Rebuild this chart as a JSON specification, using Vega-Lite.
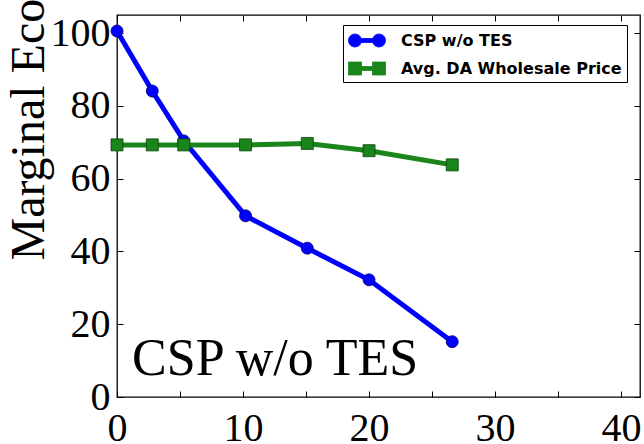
{
  "$schema": "https://vega.github.io/schema/vega-lite/v6.json",
  "width": 523,
  "height": 382,
  "autosize": {"type": "none"},
  "padding": {"left": 117, "top": 15, "right": 4, "bottom": 47},
  "background": "white",
  "config": {"view": {"stroke": "black", "strokeWidth": 1.3}},
  "data": {
    "values": [
      {"s": "CSP w/o TES", "x": 0, "y": 100.6},
      {"s": "CSP w/o TES", "x": 2.8, "y": 84.1},
      {"s": "CSP w/o TES", "x": 5.3, "y": 70.4},
      {"s": "CSP w/o TES", "x": 10.2, "y": 49.8},
      {"s": "CSP w/o TES", "x": 15.1, "y": 40.9},
      {"s": "CSP w/o TES", "x": 20.0, "y": 32.2},
      {"s": "CSP w/o TES", "x": 26.6, "y": 15.2},
      {"s": "Avg. DA Wholesale Price", "x": 0, "y": 69.3},
      {"s": "Avg. DA Wholesale Price", "x": 2.8, "y": 69.3},
      {"s": "Avg. DA Wholesale Price", "x": 5.3, "y": 69.3},
      {"s": "Avg. DA Wholesale Price", "x": 10.2, "y": 69.3},
      {"s": "Avg. DA Wholesale Price", "x": 15.1, "y": 69.7},
      {"s": "Avg. DA Wholesale Price", "x": 20.0, "y": 67.7},
      {"s": "Avg. DA Wholesale Price", "x": 26.6, "y": 63.8}
    ]
  },
  "resolve": {"axis": {"x": "independent", "y": "independent"}},
  "layer": [
    {
      "mark": {"type": "line", "strokeWidth": 5},
      "encoding": {
        "x": {
          "field": "x", "type": "quantitative",
          "scale": {"domain": [0, 41.5], "nice": false, "zero": false},
          "axis": {
            "orient": "bottom", "values": [0, 5, 10, 15, 20, 25, 30, 35, 40],
            "labelExpr": "datum.value % 10 === 0 ? datum.label : ''",
            "title": null, "domain": false, "grid": false,
            "ticks": true, "tickSize": -6, "tickColor": "black", "tickWidth": 1,
            "labelFont": "Liberation Serif", "labelFontSize": 40, "labelColor": "black",
            "labelPadding": 17, "labelFlush": false, "labelOverlap": false, "labelBound": false
          }
        },
        "y": {
          "field": "y", "type": "quantitative",
          "scale": {"domain": [0, 105], "nice": false, "zero": false},
          "axis": {
            "orient": "left", "values": [0, 20, 40, 60, 80, 100],
            "title": "Marginal Economic Value ($/MWh)",
            "titleFont": "Liberation Serif", "titleFontSize": 48, "titleFontWeight": "normal",
            "titleColor": "black", "titleX": -74, "titleY": 245, "titleAngle": 270,
            "titleAlign": "left", "titleBaseline": "alphabetic",
            "domain": false, "grid": false,
            "ticks": true, "tickSize": -6, "tickColor": "black", "tickWidth": 1,
            "labelFont": "Liberation Serif", "labelFontSize": 40, "labelColor": "black",
            "labelPadding": 13, "labelFlush": false, "labelOverlap": false, "labelBound": false,
            "labelBaseline": "middle"
          }
        },
        "color": {
          "field": "s", "type": "nominal",
          "scale": {"domain": ["CSP w/o TES", "Avg. DA Wholesale Price"], "range": ["#0000ff", "#1a851a"]},
          "legend": {
            "orient": "none", "legendX": 226, "legendY": 10, "title": null,
            "padding": 5, "strokeColor": "black", "fillColor": "white", "cornerRadius": 0,
            "labelFont": "DejaVu Sans", "labelFontSize": 16, "labelFontWeight": "bold",
            "labelColor": "black", "labelLimit": 400, "labelOffset": 32, "rowPadding": 9,
            "symbolSize": 400,
            "encode": {
              "symbols": {
                "update": {
                  "shape": {"signal": "datum.value === 'CSP w/o TES' ? 'M-1,0 A0.65,0.65 0 1,1 0.3,0 A0.65,0.65 0 1,1 -1,0 Z M0.3,-0.2 L1.4,-0.2 L1.4,0.2 L0.3,0.2 Z M1.4,0 A0.65,0.65 0 1,1 2.7,0 A0.65,0.65 0 1,1 1.4,0 Z' : 'M-1,-0.65 L0.3,-0.65 L0.3,0.65 L-1,0.65 Z M0.3,-0.2 L1.4,-0.2 L1.4,0.2 L0.3,0.2 Z M1.4,-0.65 L2.7,-0.65 L2.7,0.65 L1.4,0.65 Z'"},
                  "fill": {"signal": "datum.value === 'CSP w/o TES' ? '#0000ff' : '#1a851a'"},
                  "stroke": {"signal": "datum.value === 'CSP w/o TES' ? '#00006a' : '#0d400d'"},
                  "strokeWidth": {"value": 0.8},
                  "opacity": {"value": 1}
                }
              }
            }
          }
        }
      }
    },
    {
      "transform": [{"filter": "datum.s === 'CSP w/o TES'"}],
      "mark": {"type": "point", "shape": "circle", "filled": true, "size": 144, "color": "#0000ff", "stroke": "#00006a", "strokeWidth": 0.8, "opacity": 1},
      "encoding": {
        "x": {"field": "x", "type": "quantitative", "scale": {"domain": [0, 41.5], "nice": false, "zero": false}, "axis": null},
        "y": {"field": "y", "type": "quantitative", "scale": {"domain": [0, 105], "nice": false, "zero": false}, "axis": null}
      }
    },
    {
      "transform": [{"filter": "datum.s === 'Avg. DA Wholesale Price'"}],
      "mark": {"type": "point", "shape": "square", "filled": true, "size": 144, "color": "#1a851a", "stroke": "#0d400d", "strokeWidth": 0.8, "opacity": 1},
      "encoding": {
        "x": {
          "field": "x", "type": "quantitative", "scale": {"domain": [0, 41.5], "nice": false, "zero": false},
          "axis": {"orient": "top", "values": [0, 5, 10, 15, 20, 25, 30, 35, 40], "labels": false, "title": null, "domain": false, "grid": false, "ticks": true, "tickSize": -6, "tickColor": "black", "tickWidth": 1}
        },
        "y": {
          "field": "y", "type": "quantitative", "scale": {"domain": [0, 105], "nice": false, "zero": false},
          "axis": {"orient": "right", "values": [0, 20, 40, 60, 80, 100], "labels": false, "title": null, "domain": false, "grid": false, "ticks": true, "tickSize": -6, "tickColor": "black", "tickWidth": 1}
        }
      }
    },
    {
      "data": {"values": [{"label": "CSP w/o TES"}]},
      "mark": {"type": "text", "font": "Liberation Serif", "fontSize": 52, "align": "left", "baseline": "alphabetic", "color": "black"},
      "encoding": {
        "text": {"field": "label"},
        "x": {"datum": 1.2, "type": "quantitative", "scale": {"domain": [0, 41.5], "nice": false, "zero": false}, "axis": null},
        "y": {"datum": 6, "type": "quantitative", "scale": {"domain": [0, 105], "nice": false, "zero": false}, "axis": null}
      }
    }
  ]
}
